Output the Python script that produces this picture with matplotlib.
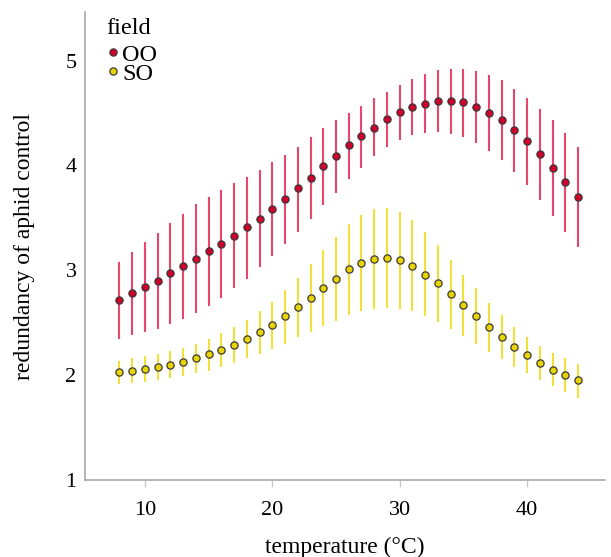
import matplotlib
matplotlib.use("Agg")
import matplotlib.pyplot as plt
import numpy as np

# temperature (°C)
temperature = list(range(8, 45))

# OO field: mean and interval ends
oo_mean = [2.72, 2.78, 2.84, 2.90, 2.97, 3.04, 3.11, 3.18, 3.25, 3.33,
           3.41, 3.49, 3.58, 3.68, 3.78, 3.88, 3.99, 4.09, 4.19, 4.28,
           4.36, 4.44, 4.51, 4.56, 4.59, 4.61, 4.61, 4.60, 4.56, 4.50,
           4.43, 4.34, 4.23, 4.11, 3.98, 3.84, 3.70]
oo_upper = [3.08, 3.17, 3.27, 3.36, 3.45, 3.54, 3.63, 3.70, 3.77, 3.83,
            3.89, 3.96, 4.03, 4.10, 4.18, 4.27, 4.36, 4.43, 4.50, 4.57,
            4.64, 4.70, 4.77, 4.82, 4.87, 4.91, 4.92, 4.92, 4.90, 4.86,
            4.81, 4.73, 4.64, 4.54, 4.43, 4.31, 4.18]
oo_lower = [2.35, 2.38, 2.41, 2.44, 2.49, 2.54, 2.59, 2.66, 2.74, 2.83,
            2.92, 3.03, 3.14, 3.25, 3.37, 3.49, 3.62, 3.74, 3.87, 3.98,
            4.09, 4.18, 4.24, 4.29, 4.31, 4.32, 4.30, 4.27, 4.21, 4.14,
            4.05, 3.94, 3.81, 3.67, 3.52, 3.37, 3.22]

# SO field
so_mean = [2.03, 2.04, 2.06, 2.08, 2.10, 2.13, 2.16, 2.20, 2.24, 2.29,
           2.35, 2.41, 2.48, 2.56, 2.65, 2.74, 2.83, 2.92, 3.01, 3.07,
           3.11, 3.12, 3.10, 3.04, 2.96, 2.88, 2.77, 2.67, 2.56, 2.46,
           2.36, 2.27, 2.19, 2.12, 2.05, 2.00, 1.95]
so_upper = [2.14, 2.16, 2.18, 2.20, 2.23, 2.26, 2.30, 2.35, 2.40, 2.46,
            2.53, 2.61, 2.70, 2.81, 2.93, 3.06, 3.19, 3.32, 3.44, 3.53,
            3.58, 3.59, 3.56, 3.48, 3.37, 3.24, 3.10, 2.96, 2.83, 2.69,
            2.57, 2.46, 2.36, 2.28, 2.21, 2.16, 2.11]
so_lower = [1.92, 1.93, 1.94, 1.95, 1.97, 1.99, 2.02, 2.04, 2.08, 2.12,
            2.16, 2.20, 2.25, 2.30, 2.36, 2.41, 2.47, 2.52, 2.57, 2.61,
            2.63, 2.64, 2.63, 2.61, 2.56, 2.51, 2.44, 2.37, 2.30, 2.22,
            2.15, 2.08, 2.02, 1.95, 1.90, 1.84, 1.78]

series = [
    ("OO", oo_mean, oo_lower, oo_upper, "#d0002c", "#e8476c"),
    ("SO", so_mean, so_lower, so_upper, "#e8d400", "#f0e03c"),
]

plt.rcParams["font.family"] = ["Liberation Serif", "DejaVu Serif"]

fig = plt.figure(figsize=(6.11, 5.57), dpi=100)
ax = fig.add_axes([0.139, 0.138, 0.851, 0.840])

x = np.array(temperature)
for name, mean, lo, hi, face, bar in series:
    mean = np.array(mean)
    yerr = np.vstack([mean - np.array(lo), np.array(hi) - mean])
    ax.errorbar(x, mean, yerr=yerr, fmt="none", ecolor=bar,
                elinewidth=1.5, capsize=0, zorder=2)
    ax.plot(x, mean, "o", ms=5.2, mfc=face, mec="#3a3a3a", mew=0.9,
            label=name, zorder=3)

ax.set_xlim(5.3, 46.1)
ax.set_ylim(1, 5.46)
ax.set_xticks([10, 20, 30, 40])
ax.set_yticks([1, 2, 3, 4, 5])
ax.tick_params(axis="x", length=5, color="#c8c8c8", width=1, pad=10,
               labelsize=16)
ax.tick_params(axis="y", length=0, pad=6, labelsize=16)

for side in ("top", "right"):
    ax.spines[side].set_visible(False)
for side in ("left", "bottom"):
    ax.spines[side].set_color("#a8a8a8")
    ax.spines[side].set_linewidth(1.2)

ax.set_xlabel("temperature (°C)", fontsize=17, labelpad=12)
ax.set_ylabel("redundancy of aphid control", fontsize=17, labelpad=22)

# legend: title drawn as plain text, entries via ax.legend
ax.text(0.042, 0.966, "field", transform=ax.transAxes, fontsize=17.5,
        ha="left", va="center")
ax.legend(loc="upper left", bbox_to_anchor=(0.044, 0.933),
          frameon=False, fontsize=17.5, handlelength=0.4,
          handletextpad=0.2, labelspacing=-0.12, borderpad=0,
          borderaxespad=0)

fig.savefig("out.png", dpi=100)
